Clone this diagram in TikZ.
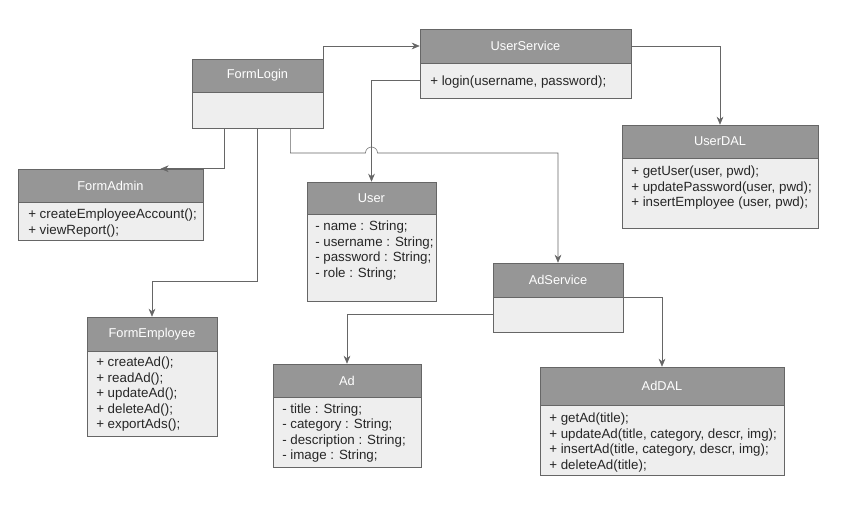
\documentclass[tikz,border=0pt]{standalone}
\usepackage{fontspec}
\setmainfont{Liberation Sans}
\usetikzlibrary{arrows.meta, calc}

% #1 id, #2 left, #3 top, #4 right, #5 split, #6 bottom, #7 title, #8 first text line, #9 lines
\newcommand{\umlclass}[9]{
    \node[hdr, minimum width={(#4-#2)*0.75pt}, minimum height={(#5-#3)*0.75pt}] (#1) at ({(#2+#4)/2},{(#3+#5)/2}) {#7};
    \node[bdy, minimum width={(#4-#2)*0.75pt}, minimum height={(#6-#5)*0.75pt}] (#1-body) at ({(#2+#4)/2},{(#5+#6)/2}) {};

    \foreach[count=\c] \entry in {#9} {
        \node[item] (#1-\c) at ($(#8)+(0,\c*15.6-15.6)$) {\entry};
    }
}

\begin{document}
\begin{tikzpicture}[x=0.75pt, y=-0.75pt]
    \definecolor{hdgray}{RGB}{150,150,150}
    \definecolor{bdgray}{RGB}{238,238,238}
    \definecolor{edge}{RGB}{102,102,102}
    \tikzstyle{hdr} = [draw=edge, fill=hdgray, text=white, inner sep=0pt, font=\fontsize{9.6}{11.7}\selectfont]
    \tikzstyle{bdy} = [draw=edge, fill=bdgray, inner sep=0pt]
    \tikzstyle{item} = [anchor=base west, inner sep=0pt, text=black!85, font=\fontsize{10}{11.7}\selectfont]
    \tikzstyle{link} = [draw=edge, -{Stealth[length=6pt, width=5pt]}]

    \useasboundingbox[fill=white] (0,0) rectangle (865,524);

    \umlclass{FormLogin}{192}{59}{323}{92}{128}{FormLogin}{0,0}{}
    \umlclass{UserService}{420}{29}{631}{63}{98}{UserService}{430,85.5}{{+ login(username, password);}}
    \umlclass{UserDAL}{622}{125}{818}{158}{228}{UserDAL}{631,175.5}
        {{+ getUser(user, pwd);},{+ updatePassword(user, pwd);},{+ insertEmployee (user, pwd);}}
    \umlclass{FormAdmin}{18}{169}{203}{202}{240}{FormAdmin}{28,218.5}
        {{+ createEmployeeAccount();},{+ viewReport();}}
    \umlclass{User}{307}{182}{436}{214}{301}{User}{315,230.5}
        {{- name : String;},{- username : String;},{- password : String;},{- role : String;}}
    \umlclass{AdService}{493}{263}{623}{297}{332}{AdService}{0,0}{}
    \umlclass{FormEmployee}{87}{317}{217}{351}{436}{FormEmployee}{96,366.5}
        {{+ createAd();},{+ readAd();},{+ updateAd();},{+ deleteAd();},{+ exportAds();}}
    \umlclass{Ad}{273}{364}{421}{397}{467}{Ad}{282,413}
        {{- title : String;},{- category : String;},{- description : String;},{- image : String;}}
    \umlclass{AdDAL}{540}{367}{784}{405}{475}{AdDAL}{549,422.5}
        {{+ getAd(title);},{+ updateAd(title, category, descr, img);},{+ insertAd(title, category, descr, img);},{+ deleteAd(title);}}

    % connectors
    \draw[link] (FormLogin.north east) |- (UserService.west);
    \draw[link] (UserService.east) -| (UserDAL.north);
    \draw[link] (UserService-body.west) -| (User.north);
    \draw[link] ($(FormLogin-body.south west)!0.25!(FormLogin-body.south east)$) |- ($(FormAdmin.north west)!0.77!(FormAdmin.north east)$);
    \draw[link] (FormLogin-body.south) -- ++(0,153) -| (FormEmployee.north);
    \draw[link] ($(FormLogin-body.south west)!0.75!(FormLogin-body.south east)$) |- (365.5,153)
        arc[start angle=180, end angle=360, radius=6] -| (AdService.north);
    \draw[link] (AdService-body.west) -| (Ad.north);
    \draw[link] (AdService.south east) -| (AdDAL.north);
\end{tikzpicture}
\end{document}
